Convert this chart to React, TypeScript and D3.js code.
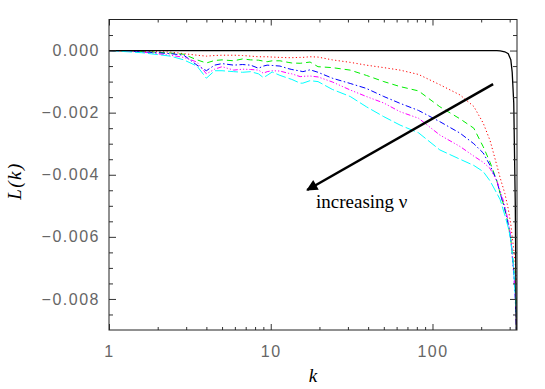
import * as d3 from "d3";
import { useEffect, useRef } from "react";

// wavenumber grid (log axis)
const kValues = [1, 1.6, 2.4, 2.9, 3.5, 4.0, 4.5, 5.0, 5.9, 6.7, 7.5, 8.4, 9.0, 9.5, 10.2, 11.4, 12.8, 13.5, 15.2, 15.8, 17.5, 19.6, 24, 31, 39, 50, 63, 82, 111, 148, 180, 206, 227, 250, 262, 280, 294, 305, 311, 318, 325, 330];

// L(k) for each nu
const blackL = [0, 0, 0, 0, 0, 0, 0, 0, 0, 0, 0, 0, 0, 0, 0, 0, 0, 0, 0, 0, 0, 0, 0, 0, 0, 0, 0, 0, 0, 0, 0, 0, 0, 0, -0.00001, -0.00004, -0.0001, -0.0003, -0.0007, -0.0017, -0.005, -0.0095];
const redL = [0, -0.00002, -0.00005, -0.0001, -0.00015, -0.00018, -0.00016, -0.00015, -0.00015, -0.00016, -0.00018, -0.0002, -0.0002, -0.0002, -0.00021, -0.00022, -0.00023, -0.00023, -0.00022, -0.00022, -0.0002, -0.00021, -0.0003, -0.00038, -0.00047, -0.00055, -0.00063, -0.00077, -0.0011, -0.00143, -0.0018, -0.00234, -0.0029, -0.0037, -0.0041, -0.0046, -0.0051, -0.0056, -0.006, -0.0064, -0.0069, -0.0074];
const greenL = [0, -0.00003, -0.00008, -0.00012, -0.0003, -0.0004, -0.00032, -0.0003, -0.00033, -0.00027, -0.0003, -0.00031, -0.00034, -0.00036, -0.00033, -0.00033, -0.00038, -0.0004, -0.00041, -0.0004, -0.00037, -0.00052, -0.00055, -0.00063, -0.0008, -0.001, -0.00116, -0.0013, -0.00181, -0.0022, -0.0025, -0.0031, -0.0036, -0.0042, -0.0046, -0.0051, -0.0056, -0.0061, -0.0065, -0.007, -0.0076, -0.0083];
const blueL = [0, -0.00004, -0.0001, -0.00015, -0.00047, -0.00065, -0.00047, -0.00042, -0.00047, -0.00045, -0.00047, -0.00057, -0.0005, -0.00047, -0.00048, -0.0005, -0.00058, -0.00061, -0.00066, -0.00068, -0.00062, -0.0007, -0.00089, -0.00106, -0.00122, -0.00148, -0.0017, -0.00193, -0.00229, -0.00266, -0.003, -0.0033, -0.0037, -0.0042, -0.0046, -0.0051, -0.0056, -0.0061, -0.0066, -0.0072, -0.008, -0.009];
const magentaL = [0, -0.00005, -0.00015, -0.00022, -0.00037, -0.00075, -0.0006, -0.00052, -0.00063, -0.0006, -0.00061, -0.00063, -0.00073, -0.00068, -0.00065, -0.00066, -0.00073, -0.00075, -0.00084, -0.00083, -0.00082, -0.00085, -0.00101, -0.00127, -0.00148, -0.00169, -0.00197, -0.00218, -0.00272, -0.00309, -0.0034, -0.0036, -0.0038, -0.0042, -0.0045, -0.005, -0.0055, -0.006, -0.0065, -0.0071, -0.0079, -0.0088];
const cyanL = [0, -0.00007, -0.00018, -0.0003, -0.0005, -0.00089, -0.00065, -0.00065, -0.00068, -0.0007, -0.00068, -0.00075, -0.00087, -0.0008, -0.00069, -0.0008, -0.00089, -0.00093, -0.00105, -0.00105, -0.00097, -0.001, -0.00125, -0.00148, -0.00181, -0.00213, -0.0024, -0.00265, -0.0032, -0.0035, -0.0037, -0.0039, -0.0042, -0.0046, -0.0048, -0.0053, -0.0057, -0.0061, -0.0065, -0.0071, -0.0079, -0.0086];

// ticks
const xMajor = [1, 10, 100];
const xMinor = [2, 3, 4, 5, 6, 7, 8, 9, 20, 30, 40, 50, 60, 70, 80, 90, 200, 300];
const yMajor = [0, -0.002, -0.004, -0.006, -0.008];
const yMinor = [0.0005, -0.0005, -0.001, -0.0015, -0.0025, -0.003, -0.0035, -0.0045, -0.005, -0.0055, -0.0065, -0.007, -0.0075, -0.0085];

// arrow annotation, in data units (k, L)
const arrowFrom = [237, -0.00108];
const arrowTo = [16.8, -0.00449];

const svgX = 545;
const svgY = 389;

export default function App() {
  const ref = useRef<SVGSVGElement>(null);

  useEffect(() => {
    const svg = d3.select(ref.current);
    svg.selectAll("*").remove();

    const margin = { top: 19.5, right: 28, bottom: 59, left: 109 };
    const x = d3.scaleLog().domain([1, 333]).range([margin.left, svgX - margin.right]);
    const y = d3.scaleLinear().domain([-0.009, 0.001]).range([svgY - margin.bottom, margin.top]);
    const [x0, x1] = x.range();
    const [y0, y1] = y.range();

    svg.append("defs").append("clipPath").attr("id", "plotclip")
      .append("rect").attr("x", x0).attr("y", y1).attr("width", x1 - x0).attr("height", y0 - y1);

    const series = [
      { v: redL, color: "#ff0000", dash: "1.2,2.4", w: 1 },
      { v: greenL, color: "#00ee00", dash: "6,4", w: 1 },
      { v: blueL, color: "#0000ff", dash: "6,2.5,1.5,2.5", w: 1 },
      { v: magentaL, color: "#ff00ff", dash: "5,2,1.2,2,1.2,2,1.2,2", w: 1 },
      { v: cyanL, color: "#00ffff", dash: "10,3", w: 1 },
      { v: blackL, color: "#000000", dash: null, w: 1.3 },
    ];

    const line = d3.line<number>()
      .x((_, i) => x(kValues[i]))
      .y((d) => y(d));

    const plot = svg.append("g").attr("clip-path", "url(#plotclip)");
    series.forEach((s) => {
      plot.append("path")
        .attr("d", line(s.v))
        .attr("fill", "none")
        .attr("stroke", s.color)
        .attr("stroke-width", s.w)
        .attr("stroke-dasharray", s.dash);
    });

    // axes, IDL style ticks pointing inward
    const tickFont = "'Liberation Sans', Arial, sans-serif";
    const styleAxis = (g: any) => {
      g.select(".domain").remove();
      g.selectAll("line").attr("stroke", "#333");
      g.selectAll("text").attr("fill", "#666").attr("font-family", tickFont)
        .style("font-family", tickFont).style("font-size", "16px").style("letter-spacing", "1.5px");
    };

    svg.append("g").attr("transform", `translate(${x0},0)`)
      .call(d3.axisLeft(y).tickValues(yMajor).tickSize(-7).tickPadding(9).tickFormat(d3.format(".3f")))
      .call(styleAxis);
    svg.append("g").attr("transform", `translate(${x0},0)`)
      .call(d3.axisLeft(y).tickValues(yMinor).tickSize(-4).tickFormat(() => ""))
      .call(styleAxis);
    svg.append("g").attr("transform", `translate(${x1},0)`)
      .call(d3.axisRight(y).tickValues(yMajor).tickSize(-7).tickFormat(() => ""))
      .call(styleAxis);
    svg.append("g").attr("transform", `translate(${x1},0)`)
      .call(d3.axisRight(y).tickValues(yMinor).tickSize(-4).tickFormat(() => ""))
      .call(styleAxis);

    svg.append("g").attr("transform", `translate(0,${y0})`)
      .call(d3.axisBottom(x).tickValues(xMajor).tickSize(-6).tickPadding(16).tickFormat(d3.format("d")))
      .call(styleAxis);
    svg.append("g").attr("transform", `translate(0,${y0})`)
      .call(d3.axisBottom(x).tickValues(xMinor).tickSize(-3).tickFormat(() => ""))
      .call(styleAxis);
    svg.append("g").attr("transform", `translate(0,${y1})`)
      .call(d3.axisTop(x).tickValues(xMajor).tickSize(-6).tickFormat(() => ""))
      .call(styleAxis);
    svg.append("g").attr("transform", `translate(0,${y1})`)
      .call(d3.axisTop(x).tickValues(xMinor).tickSize(-3).tickFormat(() => ""))
      .call(styleAxis);

    // frame
    svg.append("rect")
      .attr("x", x0).attr("y", y1).attr("width", x1 - x0).attr("height", y0 - y1)
      .attr("fill", "none").attr("stroke", "#222").attr("stroke-width", 1);

    // axis titles
    svg.append("text")
      .attr("x", 313).attr("y", 382)
      .attr("text-anchor", "middle")
      .style("font-family", "'Liberation Serif', serif").style("font-style", "italic").style("font-size", "19px")
      .text("k");
    svg.append("text")
      .attr("transform", `translate(21,181) rotate(-90)`)
      .attr("text-anchor", "middle")
      .style("font-family", "'Liberation Serif', serif").style("font-style", "italic").style("font-size", "19px")
      .style("letter-spacing", "1.5px")
      .text("L(k)");

    // arrow
    svg.append("defs").append("marker")
      .attr("id", "head").attr("viewBox", "0 0 10 10").attr("refX", 9).attr("refY", 5)
      .attr("markerWidth", 5).attr("markerHeight", 4.5).attr("orient", "auto")
      .attr("markerUnits", "strokeWidth")
      .append("path").attr("d", "M0,0 L10,5 L0,10 Z").attr("fill", "#000");
    svg.append("line")
      .attr("x1", x(arrowFrom[0])).attr("y1", y(arrowFrom[1]))
      .attr("x2", x(arrowTo[0])).attr("y2", y(arrowTo[1]))
      .attr("stroke", "#000").attr("stroke-width", 2.5)
      .attr("marker-end", "url(#head)");

    svg.append("text")
      .attr("x", 316).attr("y", 208)
      .style("font-family", "'Liberation Serif', serif").style("font-size", "19px")
      .text("increasing ν");
  }, []);

  return (
    <svg ref={ref} width={svgX} height={svgY}
      style={{ position: "absolute", left: 0, top: 0, background: "#fff" }} />
  );
}
